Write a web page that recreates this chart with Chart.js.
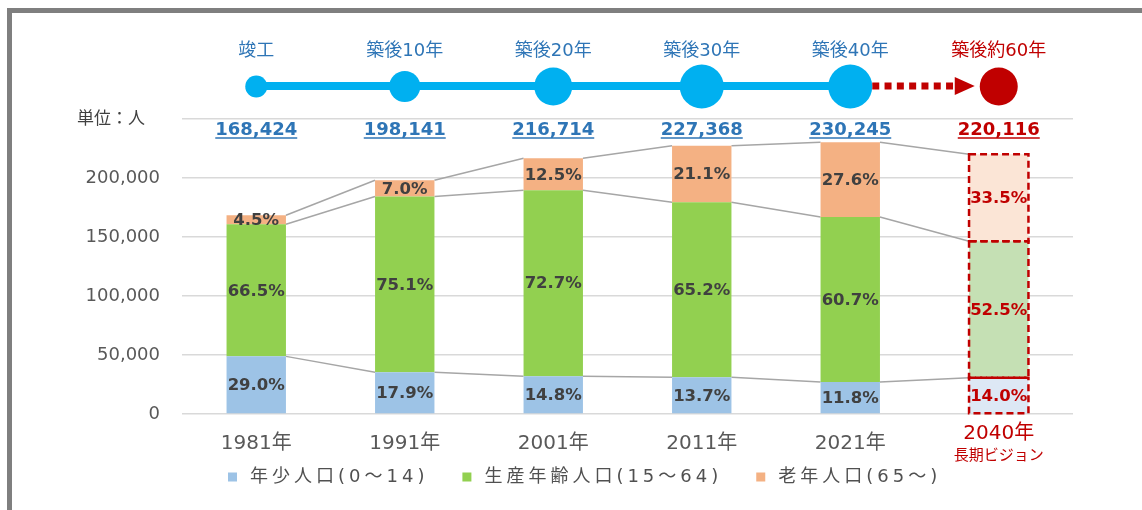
<!DOCTYPE html>
<html lang="ja">
<head>
<meta charset="utf-8">
<title>年齢3区分別人口の推移</title>
<script src="https://cdn.jsdelivr.net/npm/chart.js@4.4.1/dist/chart.umd.min.js"></script>
<style>
  html, body { margin: 0; padding: 0; background: #fff; overflow: hidden; }
  #wrap { position: relative; width: 1142px; height: 510px; }
  #frame {
    position: absolute; left: 7px; top: 8px; right: -20px; bottom: -20px;
    border-top: 5px solid #7f7f7f; border-left: 5px solid #7f7f7f;
    pointer-events: none;
  }
</style>
</head>
<body>
<div id="wrap">
  <canvas id="chart-pop" width="1142" height="510"></canvas>
  <div id="frame"></div>
</div>
<script>
'use strict';

/* データ */
const YEARS       = ['1981年', '1991年', '2001年', '2011年', '2021年', '2040年'];
const YEAR_SUB    = ['', '', '', '', '', '長期ビジョン'];
const MILESTONES  = ['竣工', '築後10年', '築後20年', '築後30年', '築後40年', '築後約60年'];
const TOTALS      = [168424, 198141, 216714, 227368, 230245, 220116];
const YOUTH       = [48843, 35467, 32074, 31149, 27169, 30816];
const WORKING     = [112002, 148804, 157551, 148244, 139759, 115561];
const ELDERLY     = [7579, 13870, 27089, 47975, 63317, 73739];
const YOUTH_PCT   = [29.0, 17.9, 14.8, 13.7, 11.8, 14.0];
const WORKING_PCT = [66.5, 75.1, 72.7, 65.2, 60.7, 52.5];
const ELDERLY_PCT = [4.5, 7.0, 12.5, 21.1, 27.6, 33.5];
const SERIES      = ['年少人口(0～14)', '生産年齢人口(15～64)', '老年人口(65～)'];
const Y_MAX  = 250000;
const Y_STEP = 50000;

/* 見た目 */
const COLORS = {
  youth:   '#9dc3e6', youthLt:   '#dde8f5',
  working: '#92d050', workingLt: '#c5e0b4',
  elderly: '#f4b183', elderlyLt: '#fbe5d6',
  blue: '#00b0f0', text: '#404040', axis: '#595959',
  link: '#2e75b6', red: '#c00000', grid: '#d9d9d9', series: '#a6a6a6',
};
const NUM_FONT = '"DejaVu Sans", "Noto Sans CJK JP", sans-serif';
const JP_FONT  = '"Noto Sans CJK JP", sans-serif';
const RADII    = [11, 15.5, 19, 22, 22, 19];   // タイムラインの円の大きさ
const VISION   = YEARS.length - 1;             // 将来推計の列

const PCTS = [YOUTH_PCT, WORKING_PCT, ELDERLY_PCT];
const fmt  = n => n.toLocaleString('en-US');
const hasSpacing = ctx => 'letterSpacing' in ctx;

/* 区分線（系列線） */
const seriesLines = {
  id: 'seriesLines',
  beforeDatasetsDraw(chart) {
    const ctx = chart.ctx;
    ctx.save();
    ctx.strokeStyle = COLORS.series;
    ctx.lineWidth = 1.5;
    [0, 1, 2].forEach(d => {
      const bars = chart.getDatasetMeta(d).data;
      for (let i = 0; i < bars.length - 1; i++) {
        const a = bars[i], b = bars[i + 1];
        ctx.beginPath();
        ctx.moveTo(a.x + a.width / 2, a.y);
        ctx.lineTo(b.x - b.width / 2, b.y);
        ctx.stroke();
      }
    });
    ctx.restore();
  },
};

/* 割合ラベルと2040年の破線枠 */
const barLabels = {
  id: 'barLabels',
  afterDatasetsDraw(chart) {
    const ctx = chart.ctx;
    ctx.save();
    [0, 1, 2].forEach(d => {
      chart.getDatasetMeta(d).data.forEach((bar, i) => {
        if (i === VISION) {
          ctx.setLineDash([7, 4]);
          ctx.lineWidth = 2.5;
          ctx.strokeStyle = COLORS.red;
          ctx.strokeRect(bar.x - bar.width / 2, bar.y, bar.width, bar.base - bar.y);
          ctx.setLineDash([]);
        }
        ctx.font = `bold 16.5px ${NUM_FONT}`;
        ctx.fillStyle = i === VISION ? COLORS.red : COLORS.text;
        ctx.textAlign = 'center';
        ctx.textBaseline = 'middle';
        ctx.fillText(PCTS[d][i].toFixed(1) + '%', bar.x, (bar.y + bar.base) / 2 + 1);
      });
    });
    ctx.restore();
  },
};

/* タイムライン・合計・凡例など */
const decorations = {
  id: 'decorations',
  afterDraw(chart) {
    const ctx = chart.ctx;
    const x = chart.scales.x;
    const xs = YEARS.map((_, i) => x.getPixelForValue(i));
    const ty = 86;
    ctx.save();

    // 青い線
    ctx.strokeStyle = COLORS.blue;
    ctx.lineWidth = 8;
    ctx.beginPath();
    ctx.moveTo(xs[0], ty);
    ctx.lineTo(xs[VISION - 1], ty);
    ctx.stroke();

    // 赤い点線と矢印
    ctx.fillStyle = COLORS.red;
    const tip = xs[VISION] - RADII[VISION] - 5;
    const arrowBase = tip - 20;
    for (let px = xs[VISION - 1] + RADII[VISION - 1]; px + 7 <= arrowBase - 1; px += 12.3) {
      ctx.fillRect(px, ty - 3.5, 7, 7);
    }
    ctx.beginPath();
    ctx.moveTo(arrowBase, ty - 9);
    ctx.lineTo(tip, ty);
    ctx.lineTo(arrowBase, ty + 9);
    ctx.closePath();
    ctx.fill();

    // 円とラベル
    xs.forEach((cx, i) => {
      ctx.fillStyle = i === VISION ? COLORS.red : COLORS.blue;
      ctx.beginPath();
      ctx.arc(cx, ty + 0.5, RADII[i], 0, Math.PI * 2);
      ctx.fill();

      ctx.font = `18px ${NUM_FONT}`;
      ctx.textAlign = 'center';
      ctx.textBaseline = 'middle';
      ctx.fillStyle = i === VISION ? COLORS.red : COLORS.link;
      ctx.fillText(MILESTONES[i], cx, 51);

      // 合計（下線付き）
      ctx.font = `bold 18px ${NUM_FONT}`;
      const txt = fmt(TOTALS[i]);
      const w = ctx.measureText(txt).width;
      const tc = i === VISION ? COLORS.red : COLORS.link;
      ctx.fillStyle = tc;
      ctx.fillText(txt, cx, 130);
      ctx.strokeStyle = tc;
      ctx.lineWidth = 1.5;
      ctx.beginPath();
      ctx.moveTo(cx - w / 2, 138);
      ctx.lineTo(cx + w / 2, 138);
      ctx.stroke();
    });

    // 単位
    ctx.font = `17px ${JP_FONT}`;
    ctx.fillStyle = COLORS.text;
    ctx.textAlign = 'left';
    ctx.fillText('単位：人', 77, 118);

    // 2040年ラベル
    ctx.fillStyle = COLORS.red;
    ctx.textAlign = 'center';
    ctx.font = `20px ${NUM_FONT}`;
    ctx.fillText(YEARS[VISION], xs[VISION], 434);
    ctx.font = `15px ${JP_FONT}`;
    ctx.fillText(YEAR_SUB[VISION], xs[VISION], 454);

    // 凡例
    const swatches = [COLORS.youth, COLORS.working, COLORS.elderly];
    let lx = 228;
    const ly = 477;
    ctx.font = `18px ${NUM_FONT}`;
    ctx.textAlign = 'left';
    if (hasSpacing(ctx)) ctx.letterSpacing = '4px';
    SERIES.forEach((name, i) => {
      ctx.fillStyle = swatches[i];
      ctx.fillRect(lx, ly - 4.5, 9, 9);
      ctx.fillStyle = '#505050';
      ctx.fillText(name, lx + 22, ly);
      lx += 22 + ctx.measureText(name).width + 34;
    });
    if (hasSpacing(ctx)) ctx.letterSpacing = '0px';

    ctx.restore();
  },
};

const pick = (base, light) => YEARS.map((_, i) => (i === VISION ? light : base));

new Chart(document.getElementById('chart-pop').getContext('2d'), {
  type: 'bar',
  data: {
    labels: YEARS,
    datasets: [
      { label: SERIES[0], data: YOUTH,   backgroundColor: pick(COLORS.youth, COLORS.youthLt) },
      { label: SERIES[1], data: WORKING, backgroundColor: pick(COLORS.working, COLORS.workingLt) },
      { label: SERIES[2], data: ELDERLY, backgroundColor: pick(COLORS.elderly, COLORS.elderlyLt) },
    ],
  },
  options: {
    responsive: false,
    animation: false,
    devicePixelRatio: 1,
    layout: { padding: { top: 119, right: 69, left: 0, bottom: 0 } },
    datasets: { bar: { categoryPercentage: 1, barPercentage: 0.4, borderWidth: 0 } },
    plugins: { legend: { display: false }, tooltip: { enabled: false } },
    scales: {
      x: {
        stacked: true,
        grid: { display: false },
        border: { display: false },
        afterFit: s => { s.height = 96; },
        ticks: {
          padding: 10,
          color: COLORS.axis,
          font: { family: NUM_FONT, size: 20 },
          callback(v, i) { return i === VISION ? '' : this.getLabelForValue(v); },
        },
      },
      y: {
        stacked: true,
        min: 0,
        max: Y_MAX,
        border: { display: false },
        grid: { color: COLORS.grid, lineWidth: 1.5, drawTicks: false },
        afterFit: s => { s.width = 182; },
        ticks: {
          stepSize: Y_STEP,
          padding: 22,
          color: COLORS.axis,
          font: { family: NUM_FONT, size: 18 },
          callback: v => (v >= Y_MAX ? '' : fmt(v)),
        },
      },
    },
  },
  plugins: [seriesLines, barLabels, decorations],
});
</script>
</body>
</html>
